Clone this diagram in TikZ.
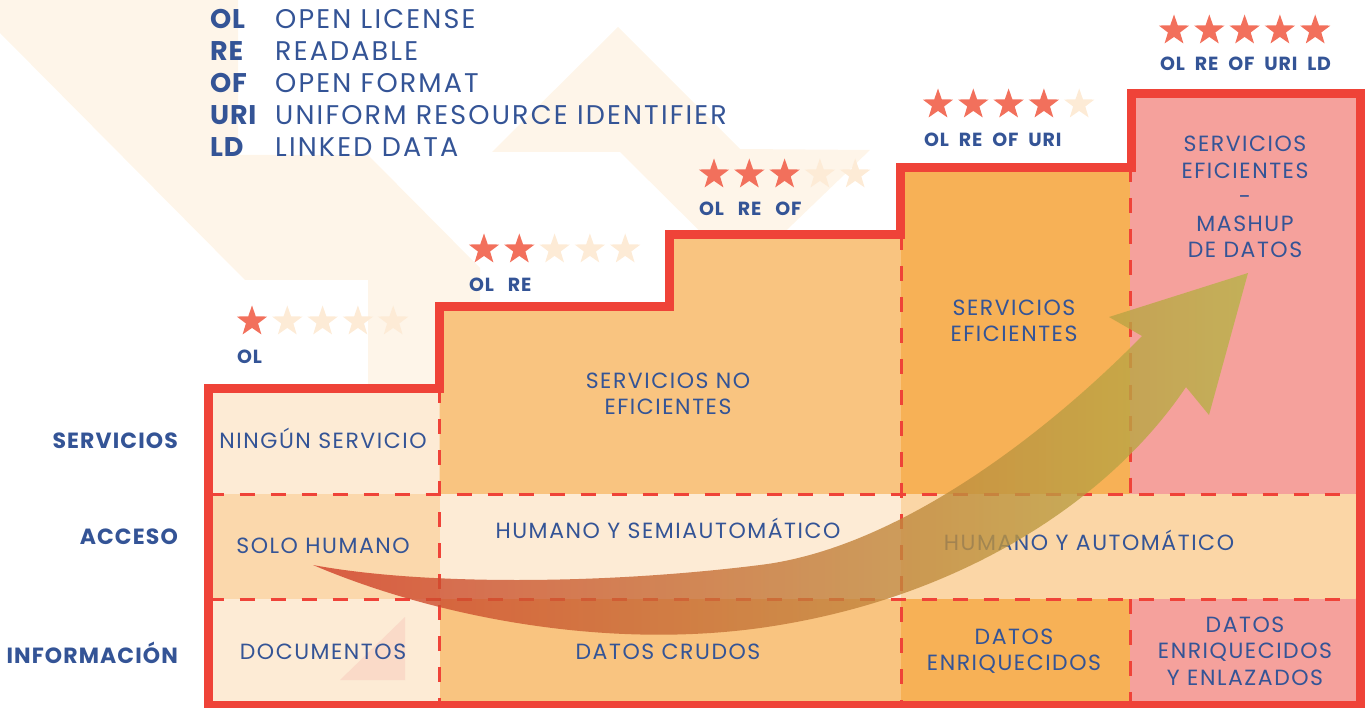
\documentclass[tikz,border=0pt]{standalone}
\usepackage{fontspec}
\setmainfont{Poppins}
\newfontfamily\cellfont[LetterSpace=7]{Poppins}
\newfontfamily\legfont[LetterSpace=8]{Poppins}
\newfontfamily\rowfont[LetterSpace=5]{Poppins}
\newfontfamily\abfont[LetterSpace=3]{Poppins}
\newfontfamily\starfont[LetterSpace=4]{Poppins}
\newcommand\mystarA{\starfont\bfseries\fontsize{19}{21}\selectfont\spaceskip=14pt\relax}
\newcommand\mystarB{\starfont\bfseries\fontsize{19}{21}\selectfont\spaceskip=10pt\relax}
\usetikzlibrary{shapes.geometric}
\definecolor{ored}{RGB}{239,67,56}
\definecolor{tblue}{RGB}{52,84,150}
\definecolor{starOn}{RGB}{242,112,92}
\definecolor{starOff}{RGB}{253,235,214}
\definecolor{cream}{RGB}{253,235,213}
\definecolor{peach}{RGB}{251,216,172}
\definecolor{lorange}{RGB}{249,196,128}
\definecolor{dorange}{RGB}{247,177,86}
\definecolor{pinkc}{RGB}{245,161,156}
\definecolor{accband}{RGB}{251,214,166}
\definecolor{bgpale}{RGB}{254,245,233}
\definecolor{trip}{RGB}{250,218,200}
\definecolor{arrRed}{RGB}{209,62,42}
\definecolor{arrMid}{RGB}{195,125,65}
\definecolor{arrOlive}{RGB}{183,180,72}
\tikzset{
  staron/.style={star, star points=5, star point ratio=2.5, minimum size=32pt, inner sep=0pt, fill=starOn, draw=none},
  staroff/.style={staron, fill=starOff},
  celltext/.style={text=tblue, font=\cellfont\fontsize{22}{26.5}\selectfont, align=center, inner sep=0pt},
  cellbase/.style={celltext, anchor=base},
  rowlabel/.style={text=tblue, font=\rowfont\bfseries\fontsize{22}{26}\selectfont, anchor=base east, inner sep=0pt},
  legab/.style={text=tblue, font=\abfont\bfseries\fontsize{27}{30}\selectfont, anchor=base west, inner sep=0pt},
  legtx/.style={text=tblue, font=\legfont\fontsize{27}{30}\selectfont, anchor=base west, inner sep=0pt},
  starlblA/.style={text=tblue, font=\mystarA, anchor=base west, inner sep=0pt},
  starlblB/.style={text=tblue, font=\mystarB, anchor=base west, inner sep=0pt},
  dashline/.style={draw=ored, line width=3pt, dash pattern=on 15pt off 16pt},
  outlinebox/.style={draw=ored, line width=9pt, line join=miter},
  bgshape/.style={fill=bgpale, draw=none},
  arrowfill/.style={left color=arrRed, middle color=arrMid, right color=arrOlive, draw=none}
}
\begin{document}
\begin{tikzpicture}[x=1pt,y=-1pt]
\useasboundingbox (0,0) rectangle (1365,708);
% background decoration
\fill[bgshape] (0,0) -- (238,0) -- (238,155) -- (368,155) -- (480,268) -- (480,302) -- (436,302) -- (436,384) -- (368,384) -- (368,280) -- (245,280) -- (0,33) -- cycle;
\fill[bgshape] (492,152) -- (618,27) -- (740,149) -- (870,150) -- (742,273) -- (620,152) -- cycle;
% cell fills
\fill[cream] (208.5,388) rectangle (439.5,494);
\fill[peach] (208.5,494) rectangle (439.5,599);
\fill[cream] (208.5,599) rectangle (439.5,705);
\fill[lorange] (439.5,494) -- (439.5,307) -- (669,307) -- (669,235) -- (901,235) -- (901,494) -- cycle;
\fill[cream] (439.5,494) rectangle (901,599);
\fill[lorange] (439.5,599) rectangle (901,705);
\fill[dorange] (901,167.5) rectangle (1130,494);
\fill[accband] (901,494) rectangle (1360.5,599);
\fill[dorange] (901,599) rectangle (1130,705);
\fill[pinkc] (1130,93.5) rectangle (1360.5,494);
\fill[pinkc] (1130,599) rectangle (1360.5,705);
\fill[trip] (340,680) -- (405,680) -- (405,617) -- cycle;
% dashed grid lines
\coordinate (h1l) at (208.5,494); \coordinate (h1r) at (1360.5,494);
\coordinate (h2l) at (208.5,599); \coordinate (h2r) at (1360.5,599);
\coordinate (v1t) at (439.5,388); \coordinate (v1b) at (439.5,705);
\coordinate (v2t) at (901,235); \coordinate (v2b) at (901,705);
\coordinate (v3t) at (1130,167.5); \coordinate (v3m) at (1130,494);
\coordinate (v3n) at (1130,599); \coordinate (v3b) at (1130,705);
\draw[dashline] (h1l) -- (h1r);
\draw[dashline] (h2l) -- (h2r);
\draw[dashline] (v1t) -- (v1b);
\draw[dashline] (v2t) -- (v2b);
\draw[dashline] (v3t) -- (v3m);
\draw[dashline] (v3n) -- (v3b);
% outline
\draw[outlinebox] (208.5,705) -- (208.5,388) -- (439.5,388) -- (439.5,307) -- (669,307) -- (669,235) -- (900,235) -- (900,167.5) -- (1131,167.5) -- (1131,93.5) -- (1360.5,93.5) -- (1360.5,705) -- cycle;
% legend
\node[legab] (abOL) at (210,29) {OL};
\node[legab] (abRE) at (210,61) {RE};
\node[legab] (abOF) at (210,93) {OF};
\node[legab] (abURI) at (210,125) {URI};
\node[legab] (abLD) at (210,157) {LD};
\node[legtx] (txOL) at (275,29) {OPEN LICENSE};
\node[legtx] (txRE) at (275,61) {READABLE};
\node[legtx] (txOF) at (275,93) {OPEN FORMAT};
\node[legtx] (txURI) at (275,125) {UNIFORM RESOURCE IDENTIFIER};
\node[legtx] (txLD) at (275,157) {LINKED DATA};
% stars
\foreach \g/\x/\y/\n in {1/252/321.5/1, 2/484/249.5/2, 3/714/174.5/3, 4/938/104.5/4, 5/1174/30.5/5}{
  \foreach \i in {1,...,5}{
    \ifnum\i>\n
      \node[staroff] (s\g-\i) at ({\x+35.3*(\i-1)},\y) {};
    \else
      \node[staron] (s\g-\i) at ({\x+35.3*(\i-1)},\y) {};
    \fi
  }
}
\node[starlblA] (lbl1) at (237,363) {OL};
\node[starlblA] (lbl2) at (469,292) {OL RE};
\node[starlblA] (lbl3) at (699,216) {OL RE OF};
\node[starlblB] (lbl4) at (924,147) {OL RE OF URI};
\node[starlblB] (lbl5) at (1160,71) {OL RE OF URI LD};
% row labels
\node[rowlabel] (rServ) at (178,448) {SERVICIOS};
\node[rowlabel] (rAcc) at (178,544) {ACCESO};
\node[rowlabel] (rInf) at (178,663) {INFORMACIÓN};
% cell texts
\node[cellbase] (c11) at (323,448) {NINGÚN SERVICIO};
\node[cellbase] (c12) at (323,553) {SOLO HUMANO};
\node[cellbase] (c13) at (323,659) {DOCUMENTOS};
\node[celltext] (c21) at (668,394) {SERVICIOS NO\\EFICIENTES};
\node[cellbase] (c22) at (668,538) {HUMANO Y SEMIAUTOMÁTICO};
\node[cellbase] (c23) at (668,659) {DATOS CRUDOS};
\node[celltext] (c31) at (1014,321) {SERVICIOS\\EFICIENTES};
\node[cellbase] (c32) at (1089,550) {HUMANO Y AUTOMÁTICO};
\node[celltext] (c33) at (1014,651) {DATOS\\ENRIQUECIDOS};
\node[celltext] (c41) at (1245,197) {SERVICIOS\\EFICIENTES\\-\\MASHUP\\DE DATOS};
\node[celltext] (c43) at (1245,651) {DATOS\\ENRIQUECIDOS\\Y ENLAZADOS};
% big arrow
\begin{scope}[transparency group, opacity=0.8]
\shade[arrowfill] (313,565) .. controls (420,585) and (600,585) .. (760,565)
  .. controls (900,548) and (1050,430) .. (1142,336)
  -- (1109,317) -- (1248,273) -- (1209,415) -- (1186,387)
  .. controls (1110,500) and (960,600) .. (760,628)
  .. controls (600,650) and (430,615) .. (313,565) -- cycle;
\end{scope}
\end{tikzpicture}
\end{document}
